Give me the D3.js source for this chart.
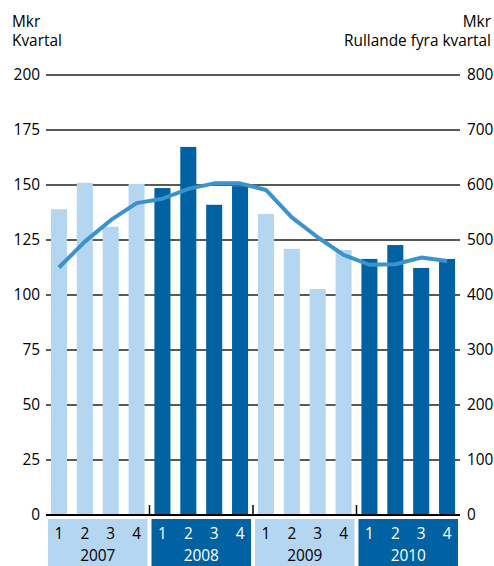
<!DOCTYPE html>
<html>
<head>
<meta charset="utf-8">
<script src="https://cdn.jsdelivr.net/npm/d3@7"></script>
<style>
  body { margin: 0; background: #fff; }
  text { font-family: "Open Sans", sans-serif; font-size: 15.4px; fill: #000; }
</style>
</head>
<body>
<div id="chart"></div>
<script>
const years = ["2007", "2008", "2009", "2010"]
const quarters = ["1", "2", "3", "4"]
// kvartal, Mkr (venstre akse)
const quarterly = [139, 151, 131, 150.5, 148.6, 167.3, 141, 149.5, 136.8, 121, 102.7, 120.5, 116.4, 122.7, 112.3, 116.4]
// rullande fyra kvartal, Mkr (høgre akse)
const rolling = [450, 497, 536, 567, 575, 593, 603, 603, 591, 541, 505, 473, 455, 456, 468, 462]
const leftTicks = [0, 25, 50, 75, 100, 125, 150, 175, 200]
const rightTicks = [0, 100, 200, 300, 400, 500, 600, 700, 800]

const light = "#b5d6f0", dark = "#0062a3", lineCol = "#3a92cf"
const w = 494, h = 566
const x0 = 46, x1 = 460, yTop = 75, yBase = 515

const svg = d3.select("#chart").append("svg")
  .attr("width", w)
  .attr("height", h)

const slots = d3.range(quarterly.length)
const x = d3.scaleBand().domain(slots).range([x0, x1]).padding(0)
const yL = d3.scaleLinear().domain([0, 200]).range([yBase, yTop])
const yR = d3.scaleLinear().domain([0, 800]).range([yBase, yTop])

const barW = x.bandwidth() * 0.62
const yearOf = i => Math.floor(i / 4)

// gridlines
svg.append("g")
  .selectAll("line")
  .data(leftTicks.filter(d => d > 0))
  .join("line")
  .attr("x1", x0).attr("x2", x1)
  .attr("y1", d => yL(d)).attr("y2", d => yL(d))
  .attr("stroke", "#222")
  .attr("stroke-width", 1.4)

// bars
svg.append("g")
  .selectAll("rect")
  .data(quarterly)
  .join("rect")
  .attr("x", (d, i) => x(i) + (x.bandwidth() - barW) / 2)
  .attr("width", barW)
  .attr("y", d => yL(d))
  .attr("height", d => yBase - yL(d))
  .attr("fill", (d, i) => yearOf(i) % 2 === 0 ? light : dark)

// rolling line
const line = d3.line()
  .x((d, i) => x(i) + x.bandwidth() / 2)
  .y(d => yR(d))

svg.append("path")
  .datum(rolling)
  .attr("d", line)
  .attr("fill", "none")
  .attr("stroke", lineCol)
  .attr("stroke-width", 4)
  .attr("stroke-linejoin", "round")

// baseline
svg.append("line")
  .attr("x1", x0).attr("x2", x1)
  .attr("y1", yBase).attr("y2", yBase)
  .attr("stroke", "#000")
  .attr("stroke-width", 2)

// year separators
svg.append("g")
  .selectAll("line")
  .data([1, 2, 3])
  .join("line")
  .attr("x1", d => x(d * 4)).attr("x2", d => x(d * 4))
  .attr("y1", yBase - 10).attr("y2", yBase)
  .attr("stroke", "#000")
  .attr("stroke-width", 1.5)

// left axis
const leftAxis = d3.axisLeft(yL).tickValues(leftTicks).tickSize(0).tickPadding(0)
svg.append("g")
  .attr("transform", `translate(${x0 - 6},0)`)
  .call(leftAxis)
  .call(g => g.select(".domain").remove())
  .selectAll("text")
  .style("font-size", "15.4px")
  .style("font-family", "Open Sans, sans-serif")
  .attr("fill", "#000")

// right axis
const rightAxis = d3.axisRight(yR).tickValues(rightTicks).tickSize(0).tickPadding(0)
svg.append("g")
  .attr("transform", `translate(${x1 + 7},0)`)
  .call(rightAxis)
  .call(g => g.select(".domain").remove())
  .selectAll("text")
  .style("font-size", "15.4px")
  .style("font-family", "Open Sans, sans-serif")
  .attr("fill", "#000")

// axis titles
svg.append("text").attr("x", 12).attr("y", 27).text("Mkr")
svg.append("text").attr("x", 12).attr("y", 46).text("Kvartal")
svg.append("text").attr("x", 491).attr("y", 27).attr("text-anchor", "end").text("Mkr")
svg.append("text").attr("x", 491).attr("y", 46).attr("text-anchor", "end").text("Rullande fyra kvartal")

// year boxes
const yearG = svg.append("g")
  .selectAll("g")
  .data(years)
  .join("g")

yearG.append("rect")
  .attr("x", (d, i) => x(i * 4) + 2)
  .attr("width", (d, i) => x.bandwidth() * 4 - 4)
  .attr("y", 519)
  .attr("height", 47)
  .attr("fill", (d, i) => i % 2 === 0 ? light : dark)

yearG.append("text")
  .attr("x", (d, i) => x(i * 4) + x.bandwidth() * 2)
  .attr("y", 561)
  .attr("text-anchor", "middle")
  .style("fill", (d, i) => i % 2 === 0 ? "#000" : "#fff")
  .text(d => d)

// quarter labels
svg.append("g")
  .selectAll("text")
  .data(slots)
  .join("text")
  .attr("x", i => x(i) + x.bandwidth() / 2)
  .attr("y", 539)
  .attr("text-anchor", "middle")
  .style("fill", i => yearOf(i) % 2 === 0 ? "#000" : "#fff")
  .text(i => quarters[i % 4])
</script>
</body>
</html>
